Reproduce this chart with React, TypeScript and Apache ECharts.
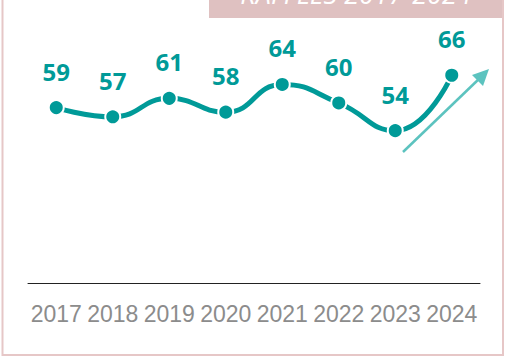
import React, { useEffect, useRef } from "react";
import * as echarts from "echarts";

const years = ["2017", "2018", "2019", "2020", "2021", "2022", "2023", "2024"];
const values = [59, 57, 61, 58, 64, 60, 54, 66];
const titleText = "RAFFLES 2017-2024";

export default function App() {
  const ref = useRef<HTMLDivElement>(null);
  useEffect(() => {
    if (!ref.current) return;
    const chart = echarts.init(ref.current, null, { renderer: "svg" });
    chart.setOption({
      animation: false,
      backgroundColor: "#ffffff",
      grid: { left: 28, right: 25, top: 6, bottom: 74 },
      xAxis: {
        type: "category",
        data: years,
        boundaryGap: true,
        axisLine: { show: true, lineStyle: { color: "#222222", width: 1 } },
        axisTick: { show: false },
        axisLabel: {
          interval: 0,
          color: "#8c8c8c",
          fontSize: 23,
          fontFamily: "'Liberation Sans', Arial, sans-serif",
          margin: 19,
        },
      },
      yAxis: {
        type: "value",
        min: 21,
        max: 81,
        show: false,
        splitLine: { show: false },
      },
      series: [
        {
          type: "line",
          data: values,
          smooth: 0.5,
          symbol: "circle",
          symbolSize: 15,
          lineStyle: { color: "#009a98", width: 5 },
          itemStyle: { color: "#009a98", borderColor: "#ffffff", borderWidth: 2 },
          label: {
            show: true,
            position: "top",
            distance: 16,
            color: "#009a98",
            fontSize: 24,
            fontWeight: "bold",
            fontFamily: "'Open Sans', 'Noto Sans', sans-serif",
          },
          z: 3,
        },
      ],
      graphic: [
        {
          type: "rect",
          shape: { x: 2.5, y: -10, width: 500.5, height: 365 },
          style: { fill: "none", stroke: "#e6c7c7", lineWidth: 2 },
          silent: true,
        },
        {
          type: "rect",
          shape: { x: 209, y: -5, width: 293, height: 23 },
          style: { fill: "#dfc1c1" },
          silent: true,
        },
        {
          type: "text",
          x: 356,
          y: 7,
          style: {
            text: titleText,
            fill: "#ffffff",
            fontSize: 27,
            fontStyle: "italic",
            fontFamily: "'Open Sans', 'Noto Sans', sans-serif",
            align: "center",
            verticalAlign: "bottom",
          },
          silent: true,
        },
        {
          type: "line",
          shape: { x1: 403, y1: 152, x2: 481, y2: 77 },
          style: { stroke: "#5cc3bf", lineWidth: 2.5 },
          silent: true,
        },
        {
          type: "polygon",
          shape: { points: [[489, 69], [472, 75], [483, 86]] },
          style: { fill: "#5cc3bf" },
          silent: true,
        },
      ],
    });
    return () => chart.dispose();
  }, []);
  return (
    <div
      ref={ref}
      style={{ position: "fixed", left: 0, top: 0, width: 505, height: 357 }}
    />
  );
}
